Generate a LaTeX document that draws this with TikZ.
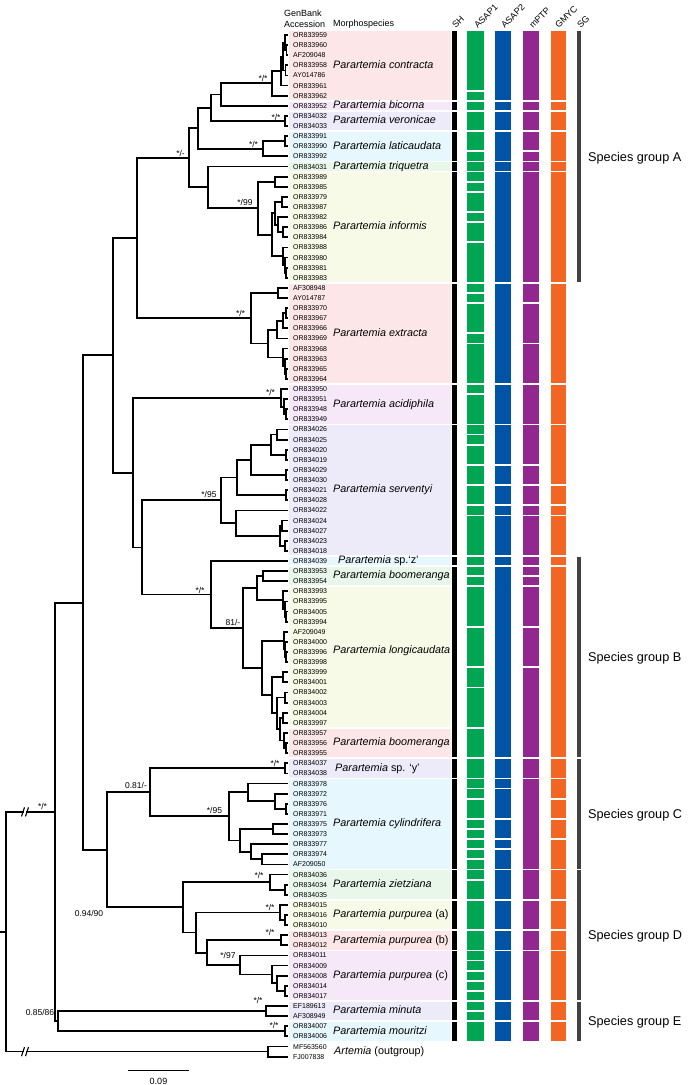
\documentclass[tikz,border=0pt]{standalone}
\usepackage{fontspec}
\setmainfont{Liberation Sans}
\definecolor{bpink}{HTML}{FCE6E7}
\definecolor{bmag}{HTML}{F7E8F9}
\definecolor{blav}{HTML}{EDEBFA}
\definecolor{bcyan}{HTML}{E6F7FD}
\definecolor{bgreen}{HTML}{E9F7EA}
\definecolor{byel}{HTML}{F6FAE6}
\definecolor{cg}{HTML}{00A651}
\definecolor{cb}{HTML}{0054A6}
\definecolor{cp}{HTML}{92278F}
\definecolor{co}{HTML}{F26522}
\definecolor{csg}{HTML}{414042}
\begin{document}
\begin{tikzpicture}[x=1pt,y=-1pt,
  br/.style={line width=1.8pt,line cap=rect,line join=miter},
  brk/.style={line width=1.1pt},
  acc/.style={font=\fontsize{7}{8}\selectfont,anchor=west,inner sep=0pt,text height=5pt,text depth=0pt},
  spn/.style={font=\fontsize{10.8}{12}\selectfont,anchor=west,inner sep=0pt,text height=7.8pt,text depth=2.2pt},
  suplab/.style={font=\fontsize{8.5}{9}\selectfont,inner sep=0pt},
  hdr/.style={font=\fontsize{9}{10}\selectfont,anchor=west,inner sep=0pt},
  rothdr/.style={font=\fontsize{9}{10}\selectfont,rotate=45,anchor=south west,inner sep=0pt},
  sglab/.style={font=\fontsize{12.7}{14}\selectfont,anchor=west,inner sep=0pt,text height=9pt,text depth=0pt}]
\useasboundingbox (0,0) rectangle (693,1085);
\begin{scope}[y=-10.115pt,yshift=-24.885pt]
% background boxes
\foreach \a/\b/\c in {1/7/bpink,8/8/bmag,9/10/blav,11/13/bcyan,14/14/bgreen,15/25/byel,26/35/bpink,36/39/bmag,40/52/blav,53/53/bcyan,54/55/bgreen,56/69/byel,70/72/bpink,73/74/blav,75/83/bcyan,84/86/bgreen,87/89/byel,90/91/bpink,92/96/bmag,97/98/blav,99/100/bcyan}
  \fill[\c] ({289.3},{\a-0.42}) rectangle ({450.5},{\b+0.42});
% SH
\foreach \a/\b in {1/7,8/8,9/10,11/13,14/14,15/25,26/35,36/39,40/52,53/53,54/72,73/74,75/83,84/86,87/89,90/91,92/96,97/98,99/100}
  \fill[black] ({451.7},{\a-0.41}) rectangle ({456.7},{\b+0.41});
% ASAP1
\foreach \a/\b in {1/6,7/7,8/8,9/10,11/12,13/13,14/14,15/15,16/16,17/18,19/19,20/21,22/25,26/26,27/27,28/30,31/31,32/35,36/36,37/39,40/40,41/41,42/43,44/45,46/47,48/48,49/52,53/53,54/54,55/55,56/59,60/63,64/65,66/69,70/72,73/74,75/75,76/76,77/78,79/79,80/80,81/81,82/82,83/83,84/84,85/86,87/89,90/91,92/92,93/93,94/94,95/95,96/96,97/97,98/98,99/100}
  \fill[cg] ({467.3},{\a-0.41}) rectangle ({483.7},{\b+0.41});
% ASAP2
\foreach \a/\b in {1/7,8/8,9/10,11/13,14/14,15/25,26/35,36/39,40/43,44/45,46/47,48/48,49/52,53/53,54/72,73/74,75/75,76/78,79/80,81/81,82/83,84/86,87/89,90/91,92/96,97/98,99/100}
  \fill[cb] ({495.3},{\a-0.41}) rectangle ({511.3},{\b+0.41});
% mPTP
\foreach \a/\b in {1/7,8/8,9/10,11/12,13/13,14/14,15/25,26/27,28/31,32/35,36/39,40/43,44/45,46/47,48/48,49/52,53/53,54/54,55/55,56/59,60/63,64/72,73/74,75/83,84/86,87/89,90/91,92/96,97/98,99/100}
  \fill[cp] ({523.3},{\a-0.41}) rectangle ({538.7},{\b+0.41});
% GMYC
\foreach \a/\b in {1/7,8/8,9/10,11/13,14/14,15/25,26/35,36/39,40/45,46/47,48/48,49/52,53/53,54/72,73/74,75/76,77/78,79/80,81/83,84/86,87/89,90/91,92/96,97/98,99/100}
  \fill[co] ({550.7},{\a-0.41}) rectangle ({566.3},{\b+0.41});
% SG
\foreach \a/\b in {1/25,53/72,73/83,84/96,97/100}
  \fill[csg] ({576.7},{\a-0.41}) rectangle ({581.3},{\b+0.41});
% tips
\foreach \acc [count=\i] in {OR833959,OR833960,AF209048,OR833958,AY014786,OR833961,OR833962,OR833952,OR834032,OR834033,OR833991,OR833990,OR833992,OR834031,OR833989,OR833985,OR833979,OR833987,OR833982,OR833986,OR833984,OR833988,OR833980,OR833981,OR833983,AF308948,AY014787,OR833970,OR833967,OR833966,OR833969,OR833968,OR833963,OR833965,OR833964,OR833950,OR833951,OR833948,OR833949,OR834026,OR834025,OR834020,OR834019,OR834029,OR834030,OR834021,OR834028,OR834022,OR834024,OR834027,OR834023,OR834018,OR834039,OR833953,OR833954,OR833993,OR833995,OR834005,OR833994,AF209049,OR834000,OR833996,OR833998,OR833999,OR834001,OR834002,OR834003,OR834004,OR833997,OR833957,OR833956,OR833955,OR834037,OR834038,OR833978,OR833972,OR833976,OR833971,OR833975,OR833973,OR833977,OR833974,AF209050,OR834036,OR834034,OR834035,OR834015,OR834016,OR834010,OR834013,OR834012,OR834011,OR834009,OR834008,OR834014,OR834017,EF189613,AF308949,OR834007,OR834006,MF563560,FJ007838}
{ \coordinate (t\i) at (287,\i); \node[acc] (l\i) at (293,\i) {\acc}; }
% species names
\node[spn] (sp1) at (333,4) {\textit{Parartemia contracta}};
\node[spn] (sp2) at (333,8) {\textit{Parartemia bicorna}};
\node[spn] (sp3) at (333,9.5) {\textit{Parartemia veronicae}};
\node[spn] (sp4) at (333,12) {\textit{Parartemia laticaudata}};
\node[spn] (sp5) at (333,14) {\textit{Parartemia triquetra}};
\node[spn] (sp6) at (333,20) {\textit{Parartemia informis}};
\node[spn] (sp7) at (333,30.5) {\textit{Parartemia extracta}};
\node[spn] (sp8) at (333,37.5) {\textit{Parartemia acidiphila}};
\node[spn] (sp9) at (333,46) {\textit{Parartemia serventyi}};
\node[spn] (sp10) at (338,53) {\textit{Parartemia} sp.‘z’};
\node[spn] (sp11) at (333,54.5) {\textit{Parartemia boomeranga}};
\node[spn] (sp12) at (333,61.9) {\textit{Parartemia longicaudata}};
\node[spn] (sp13) at (333,71) {\textit{Parartemia boomeranga}};
\node[spn] (sp14) at (335,73.5) {\textit{Parartemia} sp. ‘y’};
\node[spn] (sp15) at (333,79) {\textit{Parartemia cylindrifera}};
\node[spn] (sp16) at (333,85) {\textit{Parartemia zietziana}};
\node[spn] (sp17) at (333,88) {\textit{Parartemia purpurea} (a)};
\node[spn] (sp18) at (333,90.5) {\textit{Parartemia purpurea} (b)};
\node[spn] (sp19) at (333,94) {\textit{Parartemia purpurea} (c)};
\node[spn] (sp20) at (333,97.5) {\textit{Parartemia minuta}};
\node[spn] (sp21) at (333,99.5) {\textit{Parartemia mouritzi}};
\node[spn] (sp22) at (334,101.5) {\textit{Artemia} (outgroup)};
% internal nodes
\coordinate (c3a) at (286.5,2.5);
\coordinate (c3) at (285,1.75);
\coordinate (c4) at (285.5,4.5);
\coordinate (c2) at (283,3.125);
\coordinate (c1) at (281,4.5625);
\coordinate (c0) at (272,5.78);
\coordinate (n221) at (221,6.89);
\coordinate (ver) at (285,9.5);
\coordinate (ng) at (211,8.195);
\coordinate (l1) at (285,11.5);
\coordinate (l0) at (263,12.25);
\coordinate (nb) at (198,10.22);
\coordinate (i1) at (275,15.5);
\coordinate (i3) at (282,17.5);
\coordinate (i5) at (283,20.5);
\coordinate (i4) at (278,19.75);
\coordinate (i7) at (275,18.625);
\coordinate (i10) at (286,24.5);
\coordinate (i9) at (285,23.75);
\coordinate (i8) at (283,22.875);
\coordinate (i2) at (272,20.75);
\coordinate (i0) at (258,18.125);
\coordinate (ninf) at (208,16.06);
\coordinate (na) at (189,13.14);
\coordinate (e1) at (278,26.5);
\coordinate (e8) at (286,28.5);
\coordinate (e5) at (283,29.25);
\coordinate (e3) at (277,30.125);
\coordinate (e6) at (286,34.5);
\coordinate (e7) at (285,33.75);
\coordinate (e4) at (283,32.875);
\coordinate (e2) at (268,31.5);
\coordinate (e0) at (251,29.0);
\coordinate (n1a) at (137,21.07);
\coordinate (a2) at (286,38.5);
\coordinate (a1) at (284,37.75);
\coordinate (a0) at (281,36.875);
\coordinate (s6) at (277,40.5);
\coordinate (s7) at (286,42.5);
\coordinate (s4) at (271,41.5);
\coordinate (s8) at (286,44.5);
\coordinate (s3) at (251,43);
\coordinate (s9) at (286,46.5);
\coordinate (s1) at (237,44.75);
\coordinate (s10) at (282,49.5);
\coordinate (s11) at (285,51.5);
\coordinate (s5) at (280,50.5);
\coordinate (s2) at (236,49.25);
\coordinate (s0) at (221,47);
\coordinate (b3) at (263,54.5);
\coordinate (b4c) at (286,58.5);
\coordinate (b4b) at (285,57.75);
\coordinate (b4) at (283,56.875);
\coordinate (b2) at (257,55.69);
\coordinate (b6c) at (286,62.5);
\coordinate (b6b) at (285,61.75);
\coordinate (b6) at (284,60.875);
\coordinate (b8) at (283,64.5);
\coordinate (b10) at (285,66.5);
\coordinate (b12) at (283,68.5);
\coordinate (b13b) at (286,71.5);
\coordinate (b13) at (284,70.75);
\coordinate (b11) at (280,69.625);
\coordinate (b9) at (277,68.06);
\coordinate (b7) at (272,66.28);
\coordinate (b5) at (262,63.58);
\coordinate (b1) at (243,59.63);
\coordinate (b0) at (211,56.32);
\coordinate (n2) at (142,51.66);
\coordinate (n1b) at (133,44.27);
\coordinate (n1) at (113,32.67);
\coordinate (spy) at (285,73.5);
\coordinate (cy3) at (286,77.5);
\coordinate (cy2) at (275,76.75);
\coordinate (cy1) at (248,75.875);
\coordinate (cy5) at (273,79.5);
\coordinate (cy7) at (262,82.5);
\coordinate (cy6) at (251,81.75);
\coordinate (cy4) at (240,80.625);
\coordinate (cy0) at (229,78.25);
\coordinate (n4) at (150,75.875);
\coordinate (z1) at (285,85.5);
\coordinate (z0) at (270,84.75);
\coordinate (pa1) at (285,88.5);
\coordinate (pa) at (280,87.75);
\coordinate (pb) at (281,90.5);
\coordinate (pc3) at (285,95.5);
\coordinate (pc2) at (277,94.75);
\coordinate (pc1) at (272,93.875);
\coordinate (pc) at (240,92.94);
\coordinate (pbc) at (207,91.72);
\coordinate (p0) at (196,89.73);
\coordinate (n5) at (183,87.24);
\coordinate (n3) at (107,81.56);
\coordinate (n0) at (83,57.115);
\coordinate (mi) at (266,97.5);
\coordinate (mo) at (285,99.5);
\coordinate (e0g) at (58,98.5);
\coordinate (ing) at (55,77.81);
\coordinate (art) at (268,101.5);
\coordinate (root) at (6,89.66);
\coordinate (rs) at (0,89.66);
\coordinate (k1) at (23,77.81);
\coordinate (k2) at (27,77.81);
\coordinate (k3) at (23,101.5);
\coordinate (k4) at (27,101.5);
\coordinate (q1a) at (21.5,78.26);
\coordinate (q1b) at (24.5,77.36);
\coordinate (q2a) at (25.5,78.26);
\coordinate (q2b) at (28.5,77.36);
\coordinate (q3a) at (21.5,101.95);
\coordinate (q3b) at (24.5,101.05);
\coordinate (q4a) at (25.5,101.95);
\coordinate (q4b) at (28.5,101.05);
% branches
\foreach \p/\c in {c3a/t2,c3a/t3,c3/t1,c3/c3a,c4/t4,c4/t5,c2/c3,c2/c4,c1/c2,c1/t6,c0/c1,c0/t7,n221/c0,n221/t8,ver/t9,ver/t10,ng/n221,ng/ver,l1/t11,l1/t12,l0/l1,l0/t13,nb/ng,nb/l0,
 i1/t15,i1/t16,i3/t17,i3/t18,i5/t20,i5/t21,i4/t19,i4/i5,i7/i3,i7/i4,i10/t24,i10/t25,i9/t23,i9/i10,i8/t22,i8/i9,i2/i7,i2/i8,i0/i1,i0/i2,ninf/t14,ninf/i0,na/nb,na/ninf,
 e1/t26,e1/t27,e8/t28,e8/t29,e5/e8,e5/t30,e3/e5,e3/t31,e6/t34,e6/t35,e7/t33,e7/e6,e4/t32,e4/e7,e2/e3,e2/e4,e0/e1,e0/e2,n1a/na,n1a/e0,
 a2/t38,a2/t39,a1/t37,a1/a2,a0/t36,a0/a1,
 s6/t40,s6/t41,s7/t42,s7/t43,s4/s6,s4/s7,s8/t44,s8/t45,s3/s4,s3/s8,s9/t46,s9/t47,s1/s3,s1/s9,s10/t49,s10/t50,s11/t51,s11/t52,s5/s10,s5/s11,s2/t48,s2/s5,s0/s1,s0/s2,
 b3/t54,b3/t55,b4c/t58,b4c/t59,b4b/t57,b4b/b4c,b4/t56,b4/b4b,b2/b3,b2/b4,b6c/t62,b6c/t63,b6b/t61,b6b/b6c,b6/t60,b6/b6b,b8/t64,b8/t65,b10/t66,b10/t67,b12/t68,b12/t69,b13b/t71,b13b/t72,b13/t70,b13/b13b,b11/b12,b11/b13,b9/b10,b9/b11,b7/b8,b7/b9,b5/b6,b5/b7,b1/b2,b1/b5,b0/t53,b0/b1,
 n2/s0,n2/b0,n1b/a0,n1b/n2,n1/n1a,n1/n1b,
 spy/t73,spy/t74,cy3/t77,cy3/t78,cy2/t76,cy2/cy3,cy1/t75,cy1/cy2,cy5/t79,cy5/t80,cy7/t82,cy7/t83,cy6/t81,cy6/cy7,cy4/cy5,cy4/cy6,cy0/cy1,cy0/cy4,n4/spy,n4/cy0,
 z1/t85,z1/t86,z0/t84,z0/z1,pa1/t88,pa1/t89,pa/t87,pa/pa1,pb/t90,pb/t91,pc3/t95,pc3/t96,pc2/t94,pc2/pc3,pc1/t93,pc1/pc2,pc/t92,pc/pc1,pbc/pb,pbc/pc,p0/pa,p0/pbc,n5/z0,n5/p0,n3/n4,n3/n5,n0/n1,n0/n3,
 mi/t97,mi/t98,mo/t99,mo/t100,e0g/mi,e0g/mo,ing/n0,ing/e0g,art/t101,art/t102}
  \draw[br] (\p) |- (\c);
\draw[br] (rs) -- (root);
\draw[br] (root) |- (k1);
\draw[br] (k2) -- (ing);
\draw[br] (root) |- (k3);
\draw[br] (k4) -- (art);
\draw[brk] (q1a) -- (q1b);
\draw[brk] (q2a) -- (q2b);
\draw[brk] (q3a) -- (q3b);
\draw[brk] (q4a) -- (q4b);
\end{scope}
% support values
\node[suplab] (v1) at (263,78) {*/*};
\node[suplab] (v2) at (276,117) {*/*};
\node[suplab] (v3) at (180.5,153) {*/-};
\node[suplab] (v4) at (253.5,144) {*/*};
\node[suplab] (v5) at (245,202) {*/99};
\node[suplab] (v6) at (240.5,313) {*/*};
\node[suplab] (v7) at (270.5,392) {*/*};
\node[suplab] (v8) at (209,494) {*/95};
\node[suplab] (v9) at (200,590) {*/*};
\node[suplab] (v10) at (233,622) {81/-};
\node[suplab] (v11) at (275,763) {*/*};
\node[suplab] (v12) at (136,785) {0.81/-};
\node[suplab] (v13) at (214.5,810) {*/95};
\node[suplab] (v14) at (42.5,806.5) {*/*};
\node[suplab] (v15) at (259,875) {*/*};
\node[suplab] (v16) at (89,913) {0.94/90};
\node[suplab] (v17) at (270,907) {*/*};
\node[suplab] (v18) at (270,932) {*/*};
\node[suplab] (v19) at (228,955) {*/97};
\node[suplab] (v20) at (258,1000) {*/*};
\node[suplab] (v21) at (40,1012) {0.85/86};
\node[suplab] (v22) at (274,1025) {*/*};
% headers
\node[hdr] (gb1) at (284,13) {GenBank};
\node[hdr] (gb2) at (284,24) {Accession};
\node[hdr] (mor) at (333,24) {Morphospecies};
\node[rothdr] (hsh) at (456,29) {SH};
\node[rothdr] (ha1) at (478,29) {ASAP1};
\node[rothdr] (ha2) at (505,29) {ASAP2};
\node[rothdr] (hmp) at (533,29) {mPTP};
\node[rothdr] (hgm) at (559,29) {GMYC};
\node[rothdr] (hsg) at (581,29) {SG};
% species groups
\node[sglab] (ga) at (588,157) {Species group A};
\node[sglab] (gb) at (588,657) {Species group B};
\node[sglab] (gc) at (588,814) {Species group C};
\node[sglab] (gd) at (588,935) {Species group D};
\node[sglab] (ge) at (588,1021) {Species group E};
% scale bar
\coordinate (sb1) at (128,1070);
\coordinate (sb2) at (189,1070);
\draw[line width=1pt] (sb1) -- (sb2);
\node[suplab,font=\fontsize{9}{10}\selectfont] (sbl) at (158.5,1081) {0.09};
\end{tikzpicture}
\end{document}
